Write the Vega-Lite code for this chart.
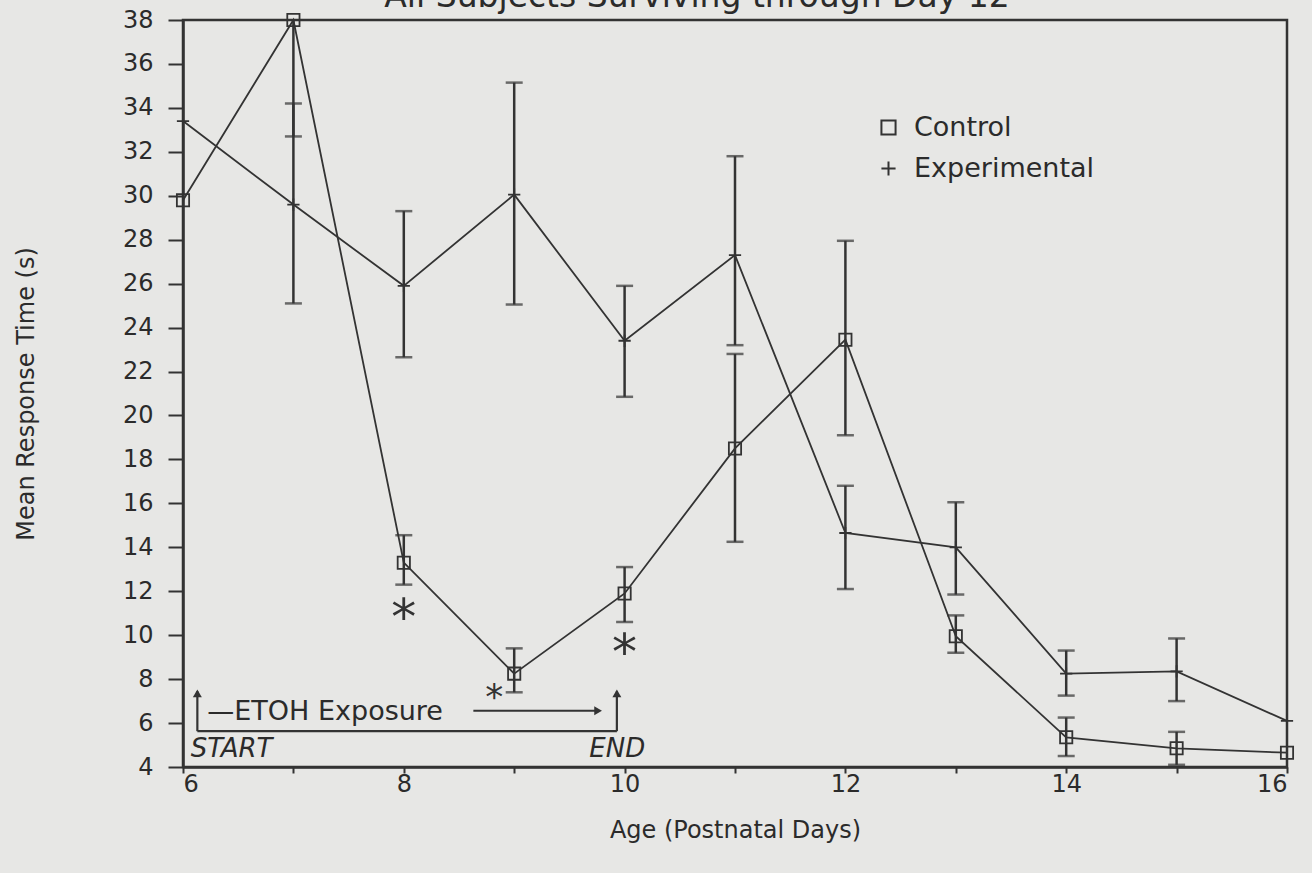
{
  "$schema": "https://vega.github.io/schema/vega-lite/v6.json",
  "width": 1104,
  "height": 747,
  "autosize": {"type": "none"},
  "padding": {"left": 183, "top": 20, "right": 25, "bottom": 106},
  "background": "#e7e7e5",
  "title": {
    "text": "All Subjects Surviving through Day 12",
    "fontSize": 33, "font": "DejaVu Sans", "fontWeight": "normal", "color": "#2b2b2b",
    "anchor": "middle", "frame": "group", "dx": -38, "offset": -32, "baseline": "alphabetic"
  },
  "config": {
    "view": {"stroke": "#333333", "strokeWidth": 2.5},
    "axis": {
      "grid": false, "domainColor": "#333333", "domainWidth": 2.5,
      "tickColor": "#333333", "tickWidth": 2,
      "labelFont": "DejaVu Sans", "labelFontSize": 24, "labelColor": "#2b2b2b",
      "titleFont": "DejaVu Sans", "titleFontSize": 24, "titleFontWeight": "normal", "titleColor": "#2b2b2b"
    }
  },
  "datasets": {
    "main": [
      {"day": 6, "series": "Control", "mean": 29.8, "lo": null, "hi": null},
      {"day": 7, "series": "Control", "mean": 38.0, "lo": 32.7, "hi": 43.3},
      {"day": 8, "series": "Control", "mean": 13.3, "lo": 12.3, "hi": 14.55},
      {"day": 9, "series": "Control", "mean": 8.25, "lo": 7.4, "hi": 9.4},
      {"day": 10, "series": "Control", "mean": 11.9, "lo": 10.6, "hi": 13.1},
      {"day": 11, "series": "Control", "mean": 18.5, "lo": 14.25, "hi": 22.8},
      {"day": 12, "series": "Control", "mean": 23.45, "lo": 19.1, "hi": 27.95},
      {"day": 13, "series": "Control", "mean": 9.95, "lo": 9.2, "hi": 10.9},
      {"day": 14, "series": "Control", "mean": 5.35, "lo": 4.5, "hi": 6.25},
      {"day": 15, "series": "Control", "mean": 4.85, "lo": 4.1, "hi": 5.6},
      {"day": 16, "series": "Control", "mean": 4.65, "lo": null, "hi": null},
      {"day": 6, "series": "Experimental", "mean": 33.4, "lo": null, "hi": null},
      {"day": 7, "series": "Experimental", "mean": 29.6, "lo": 25.1, "hi": 34.2},
      {"day": 8, "series": "Experimental", "mean": 25.9, "lo": 22.65, "hi": 29.3},
      {"day": 9, "series": "Experimental", "mean": 30.05, "lo": 25.05, "hi": 35.15},
      {"day": 10, "series": "Experimental", "mean": 23.4, "lo": 20.85, "hi": 25.9},
      {"day": 11, "series": "Experimental", "mean": 27.3, "lo": 23.2, "hi": 31.8},
      {"day": 12, "series": "Experimental", "mean": 14.65, "lo": 12.1, "hi": 16.8},
      {"day": 13, "series": "Experimental", "mean": 14.0, "lo": 11.85, "hi": 16.05},
      {"day": 14, "series": "Experimental", "mean": 8.25, "lo": 7.25, "hi": 9.3},
      {"day": 15, "series": "Experimental", "mean": 8.35, "lo": 7.0, "hi": 9.85},
      {"day": 16, "series": "Experimental", "mean": 6.1, "lo": null, "hi": null}
    ],
    "stars_big": [{"day": 8.0, "y": 11.3}, {"day": 10.0, "y": 9.7}],
    "stars_small": [{"day": 8.82, "y": 7.55}],
    "ann_rules": [
      {"x": 6.13, "x2": 9.93, "y": 5.63, "y2": 5.63},
      {"x": 6.13, "x2": 6.13, "y": 5.63, "y2": 7.45},
      {"x": 9.93, "x2": 9.93, "y": 5.63, "y2": 7.45},
      {"x": 8.63, "x2": 9.74, "y": 6.56, "y2": 6.56}
    ],
    "heads_up": [{"x": 6.13, "y": 7.35}, {"x": 9.93, "y": 7.35}],
    "head_right": [{"x": 9.76, "y": 6.56}],
    "ann_text": [{"x": 6.22, "y": 6.5, "label": "—ETOH Exposure"}],
    "ann_italic": [{"x": 6.07, "y": 4.82, "label": "START"}, {"x": 9.68, "y": 4.82, "label": "END"}]
  },
  "layer": [
    {
      "data": {"name": "main"},
      "transform": [{"filter": "isValid(datum.lo)"}],
      "mark": {"type": "rule", "color": "#333333", "strokeWidth": 2.5, "clip": true},
      "encoding": {
        "x": {"field": "day", "type": "quantitative",
          "scale": {"domain": [6, 16], "nice": false, "zero": false},
          "axis": {"values": [6, 7, 8, 9, 10, 11, 12, 13, 14, 15, 16], "format": "d",
            "labelExpr": "datum.value % 2 == 0 ? datum.label : ''",
            "tickSize": 6, "labelPadding": -1, "title": "Age (Postnatal Days)", "titlePadding": 22}},
        "y": {"field": "lo", "type": "quantitative",
          "scale": {"domain": [4, 38], "nice": false, "zero": false, "clamp": true},
          "axis": {"values": [4, 6, 8, 10, 12, 14, 16, 18, 20, 22, 24, 26, 28, 30, 32, 34, 36, 38],
            "tickSize": 15, "labelPadding": 15, "title": "Mean Response Time (s)", "titlePadding": 84}},
        "y2": {"field": "hi"}
      }
    },
    {
      "data": {"name": "main"},
      "transform": [{"filter": "isValid(datum.lo)"}],
      "mark": {"type": "tick", "orient": "horizontal", "color": "#333333", "size": 17, "thickness": 2.5},
      "encoding": {
        "x": {"field": "day", "type": "quantitative"},
        "y": {"field": "lo", "type": "quantitative"}
      }
    },
    {
      "data": {"name": "main"},
      "transform": [{"filter": "isValid(datum.hi) && datum.hi <= 38"}],
      "mark": {"type": "tick", "orient": "horizontal", "color": "#333333", "size": 17, "thickness": 2.5},
      "encoding": {
        "x": {"field": "day", "type": "quantitative"},
        "y": {"field": "hi", "type": "quantitative"}
      }
    },
    {
      "data": {"name": "main"},
      "mark": {"type": "line", "color": "#333333", "strokeWidth": 1.8},
      "encoding": {
        "x": {"field": "day", "type": "quantitative"},
        "y": {"field": "mean", "type": "quantitative"},
        "detail": {"field": "series"}
      }
    },
    {
      "data": {"name": "main"},
      "mark": {"type": "point", "filled": false, "color": "#333333", "size": 150, "strokeWidth": 1.8, "opacity": 1},
      "encoding": {
        "x": {"field": "day", "type": "quantitative"},
        "y": {"field": "mean", "type": "quantitative"},
        "shape": {"field": "series", "type": "nominal",
          "scale": {"domain": ["Control", "Experimental"], "range": ["square", "M-1,0H1M0,-1V1"]},
          "legend": {"title": null, "orient": "none", "legendX": 692, "legendY": 94,
            "labelFont": "DejaVu Sans", "labelFontSize": 27, "labelColor": "#2b2b2b", "labelLimit": 400,
            "symbolSize": 200, "symbolStrokeWidth": 2, "symbolStrokeColor": "#333333", "symbolFillColor": "transparent",
            "labelOffset": 12, "rowPadding": 13, "padding": 0}}
      }
    },
    {
      "data": {"name": "stars_big"},
      "mark": {"type": "text", "text": "*", "font": "DejaVu Sans", "fontSize": 50, "color": "#333333", "baseline": "middle", "dy": 12},
      "encoding": {
        "x": {"field": "day", "type": "quantitative"},
        "y": {"field": "y", "type": "quantitative"}
      }
    },
    {
      "data": {"name": "stars_small"},
      "mark": {"type": "text", "text": "*", "font": "DejaVu Sans", "fontSize": 36, "color": "#333333", "baseline": "middle", "dy": 9},
      "encoding": {
        "x": {"field": "day", "type": "quantitative"},
        "y": {"field": "y", "type": "quantitative"}
      }
    },
    {
      "data": {"name": "ann_rules"},
      "mark": {"type": "rule", "color": "#333333", "strokeWidth": 2.2},
      "encoding": {
        "x": {"field": "x", "type": "quantitative"},
        "x2": {"field": "x2"},
        "y": {"field": "y", "type": "quantitative"},
        "y2": {"field": "y2"}
      }
    },
    {
      "data": {"name": "heads_up"},
      "mark": {"type": "point", "shape": "triangle-up", "filled": true, "color": "#333333", "size": 80, "opacity": 1},
      "encoding": {
        "x": {"field": "x", "type": "quantitative"},
        "y": {"field": "y", "type": "quantitative"}
      }
    },
    {
      "data": {"name": "head_right"},
      "mark": {"type": "point", "shape": "triangle-right", "filled": true, "color": "#333333", "size": 80, "opacity": 1},
      "encoding": {
        "x": {"field": "x", "type": "quantitative"},
        "y": {"field": "y", "type": "quantitative"}
      }
    },
    {
      "data": {"name": "ann_text"},
      "mark": {"type": "text", "font": "DejaVu Sans", "fontSize": 27, "color": "#2b2b2b", "align": "left", "baseline": "middle"},
      "encoding": {
        "x": {"field": "x", "type": "quantitative"},
        "y": {"field": "y", "type": "quantitative"},
        "text": {"field": "label"}
      }
    },
    {
      "data": {"name": "ann_italic"},
      "mark": {"type": "text", "font": "DejaVu Sans", "fontSize": 26, "fontStyle": "italic", "color": "#2b2b2b", "align": "left", "baseline": "middle"},
      "encoding": {
        "x": {"field": "x", "type": "quantitative"},
        "y": {"field": "y", "type": "quantitative"},
        "text": {"field": "label"}
      }
    }
  ]
}
